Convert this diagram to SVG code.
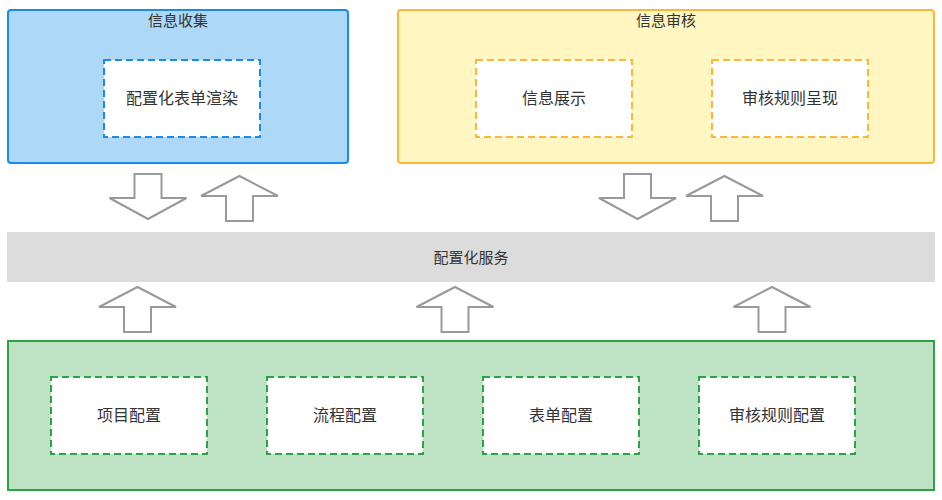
<svg xmlns="http://www.w3.org/2000/svg" width="942" height="500" viewBox="0 0 942 500">
<style>
text{font-family:"Liberation Sans","Noto Sans CJK SC",sans-serif;font-size:15px;fill:#333;text-anchor:middle;dominant-baseline:central}
text.t16{font-size:16px}
.inner{fill:#fff;stroke-width:2;stroke-dasharray:7 4}
.arrow{fill:#fff;stroke:#999;stroke-width:2;stroke-linejoin:miter}
</style>
<defs>
<path id="up" d="M0,0 L38.5,20 L13.5,20 L13.5,45 L-13.5,45 L-13.5,20 L-38.5,20 Z"/>
<path id="down" d="M0,0 L38.5,-21 L13.5,-21 L13.5,-45 L-13.5,-45 L-13.5,-21 L-38.5,-21 Z"/>
</defs>
<rect width="942" height="500" fill="#fff"/>
<g id="collect">
<rect x="8" y="10" width="340" height="153" rx="3" fill="#ADD8F7" stroke="#1A8BE6" stroke-width="2"/>
<text x="178" y="20">信息收集</text>
</g>
<g id="render">
<rect class="inner" x="104" y="60" width="156" height="77" stroke="#1A8BE6"/>
<text class="t16" x="182" y="98.5">配置化表单渲染</text>
</g>
<g id="audit">
<rect x="398" y="10" width="536" height="153" rx="3" fill="#FFF6C1" stroke="#FBB63B" stroke-width="2"/>
<text x="666" y="20">信息审核</text>
</g>
<g id="show">
<rect class="inner" x="476" y="60" width="156" height="77" stroke="#FBB63B"/>
<text class="t16" x="554" y="98.5">信息展示</text>
</g>
<g id="rules">
<rect class="inner" x="712" y="60" width="156" height="77" stroke="#FBB63B"/>
<text class="t16" x="790" y="98.5">审核规则呈现</text>
</g>
<g id="service">
<rect x="7" y="232" width="928" height="50" fill="#DCDCDC"/>
<text x="471" y="257">配置化服务</text>
</g>
<g id="config">
<rect x="8" y="341" width="926" height="149" fill="#BEE2C4" stroke="#2EA344" stroke-width="2"/>
</g>
<g id="project">
<rect class="inner" x="51" y="377" width="156" height="77" stroke="#2EA344"/>
<text class="t16" x="129" y="415.5">项目配置</text>
</g>
<g id="flow">
<rect class="inner" x="267" y="377" width="156" height="77" stroke="#2EA344"/>
<text class="t16" x="345" y="415.5">流程配置</text>
</g>
<g id="form">
<rect class="inner" x="483" y="377" width="156" height="77" stroke="#2EA344"/>
<text class="t16" x="561" y="415.5">表单配置</text>
</g>
<g id="rulecfg">
<rect class="inner" x="699" y="377" width="156" height="77" stroke="#2EA344"/>
<text class="t16" x="777" y="415.5">审核规则配置</text>
</g>
<g id="connectors">
<use href="#down" class="arrow" transform="translate(148,219)"/>
<use href="#up" class="arrow" transform="translate(239.5,176)"/>
<use href="#down" class="arrow" transform="translate(637.5,219)"/>
<use href="#up" class="arrow" transform="translate(724.5,176)"/>
<use href="#up" class="arrow" transform="translate(137.5,287)"/>
<use href="#up" class="arrow" transform="translate(455,287)"/>
<use href="#up" class="arrow" transform="translate(772,287)"/>
</g>
</svg>
